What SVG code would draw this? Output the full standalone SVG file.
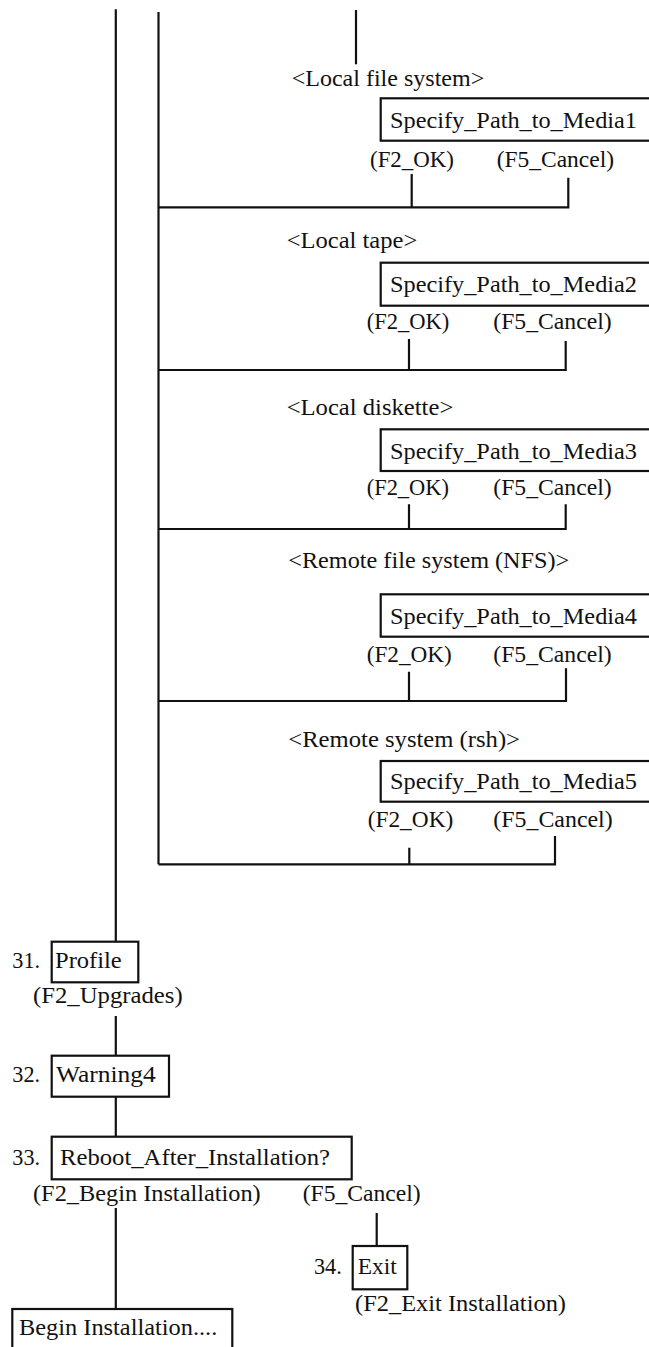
<svg xmlns="http://www.w3.org/2000/svg" width="649" height="1347" viewBox="0 0 649 1347">
<style>
  text { font-family: "Liberation Serif", "Times New Roman", serif; font-size: 23.5px; fill: #111; }
  .box { fill: none; stroke: #111; stroke-width: 2.2; }
  .wire { fill: none; stroke: #111; stroke-width: 2.2; stroke-linejoin: miter; }
</style>
<rect x="0" y="0" width="649" height="1347" fill="#fff"/>

<g id="connectors">
  <path class="wire" d="M115.8,9.3 V941.7"/>
  <path class="wire" d="M158.5,12 V864.3"/>
  <path class="wire" d="M356,10 V64.3"/>
  <path class="wire" d="M411.7,174 V207.3 M568.3,177.7 V207.3 H158.5"/>
  <path class="wire" d="M409,339 V370 M565.7,341 V370 H158.5"/>
  <path class="wire" d="M409,504.3 V529 M565.7,504.3 V529 H158.5"/>
  <path class="wire" d="M409,671.7 V701 M566,668.3 V701 H158.5"/>
  <path class="wire" d="M409.3,847.7 V864.3 M555,836 V864.3 H158.5"/>
  <path class="wire" d="M115.8,1016 V1055.7"/>
  <path class="wire" d="M115.8,1096.7 V1136.7"/>
  <path class="wire" d="M115.8,1208 V1309"/>
  <path class="wire" d="M376.7,1213 V1246"/>
</g>

<g id="media1">
  <text x="291.7" y="86" textLength="192.6" lengthAdjust="spacingAndGlyphs">&lt;Local file system&gt;</text>
  <rect class="box" x="380.7" y="98.3" width="280" height="42.4"/>
  <text x="390" y="127.5" textLength="247" lengthAdjust="spacingAndGlyphs">Specify_Path_to_Media1</text>
  <text x="370" y="167" textLength="84" lengthAdjust="spacingAndGlyphs">(F2_OK)</text>
  <text x="496.7" y="167" textLength="117.3" lengthAdjust="spacingAndGlyphs">(F5_Cancel)</text>
</g>

<g id="media2">
  <text x="286.7" y="248.3" textLength="130.6" lengthAdjust="spacingAndGlyphs">&lt;Local tape&gt;</text>
  <rect class="box" x="380.7" y="262.7" width="280" height="43"/>
  <text x="390" y="292" textLength="247" lengthAdjust="spacingAndGlyphs">Specify_Path_to_Media2</text>
  <text x="366.7" y="329" textLength="82.6" lengthAdjust="spacingAndGlyphs">(F2_OK)</text>
  <text x="493.3" y="329" textLength="118.4" lengthAdjust="spacingAndGlyphs">(F5_Cancel)</text>
</g>

<g id="media3">
  <text x="286.7" y="415" textLength="166.6" lengthAdjust="spacingAndGlyphs">&lt;Local diskette&gt;</text>
  <rect class="box" x="380.7" y="429.3" width="280" height="41.7"/>
  <text x="390" y="458.5" textLength="247" lengthAdjust="spacingAndGlyphs">Specify_Path_to_Media3</text>
  <text x="366.7" y="495" textLength="82.3" lengthAdjust="spacingAndGlyphs">(F2_OK)</text>
  <text x="493.3" y="495" textLength="118.4" lengthAdjust="spacingAndGlyphs">(F5_Cancel)</text>
</g>

<g id="media4">
  <text x="288.3" y="568" textLength="281" lengthAdjust="spacingAndGlyphs">&lt;Remote file system (NFS)&gt;</text>
  <rect class="box" x="380.7" y="594.3" width="280" height="42.4"/>
  <text x="390" y="623.5" textLength="247" lengthAdjust="spacingAndGlyphs">Specify_Path_to_Media4</text>
  <text x="366.7" y="662" textLength="85" lengthAdjust="spacingAndGlyphs">(F2_OK)</text>
  <text x="493.3" y="662" textLength="118.4" lengthAdjust="spacingAndGlyphs">(F5_Cancel)</text>
</g>

<g id="media5">
  <text x="288.3" y="747" textLength="231.7" lengthAdjust="spacingAndGlyphs">&lt;Remote system (rsh)&gt;</text>
  <rect class="box" x="380.7" y="761" width="280" height="40.7"/>
  <text x="390" y="789" textLength="247" lengthAdjust="spacingAndGlyphs">Specify_Path_to_Media5</text>
  <text x="367.7" y="827" textLength="85.6" lengthAdjust="spacingAndGlyphs">(F2_OK)</text>
  <text x="493.3" y="827" textLength="119.4" lengthAdjust="spacingAndGlyphs">(F5_Cancel)</text>
</g>

<g id="profile">
  <text x="12.3" y="968" textLength="27.7" lengthAdjust="spacingAndGlyphs">31.</text>
  <rect class="box" x="51.7" y="941.7" width="86.6" height="40.6"/>
  <text x="55" y="968" textLength="66.7" lengthAdjust="spacingAndGlyphs">Profile</text>
  <text x="33" y="1003" textLength="149.7" lengthAdjust="spacingAndGlyphs">(F2_Upgrades)</text>
</g>

<g id="warning4">
  <text x="12.3" y="1082" textLength="27.7" lengthAdjust="spacingAndGlyphs">32.</text>
  <rect class="box" x="51.7" y="1055.7" width="117.3" height="41"/>
  <text x="56" y="1082" textLength="99.7" lengthAdjust="spacingAndGlyphs">Warning4</text>
</g>

<g id="reboot">
  <text x="12.3" y="1165" textLength="27.7" lengthAdjust="spacingAndGlyphs">33.</text>
  <rect class="box" x="51.7" y="1136.7" width="300" height="42.6"/>
  <text x="60" y="1165" textLength="270" lengthAdjust="spacingAndGlyphs">Reboot_After_Installation?</text>
  <text x="33" y="1201" textLength="227.7" lengthAdjust="spacingAndGlyphs">(F2_Begin Installation)</text>
  <text x="302.7" y="1201" textLength="118" lengthAdjust="spacingAndGlyphs">(F5_Cancel)</text>
</g>

<g id="exit">
  <text x="314" y="1273.5" textLength="27.7" lengthAdjust="spacingAndGlyphs">34.</text>
  <rect class="box" x="352.7" y="1246" width="54.6" height="43.3"/>
  <text x="357.7" y="1273.5" textLength="39" lengthAdjust="spacingAndGlyphs">Exit</text>
  <text x="355" y="1311" textLength="211" lengthAdjust="spacingAndGlyphs">(F2_Exit Installation)</text>
</g>

<g id="begin-installation">
  <rect class="box" x="12.3" y="1309" width="220" height="60"/>
  <text x="19" y="1335" textLength="198.3" lengthAdjust="spacingAndGlyphs">Begin Installation....</text>
</g>
</svg>
